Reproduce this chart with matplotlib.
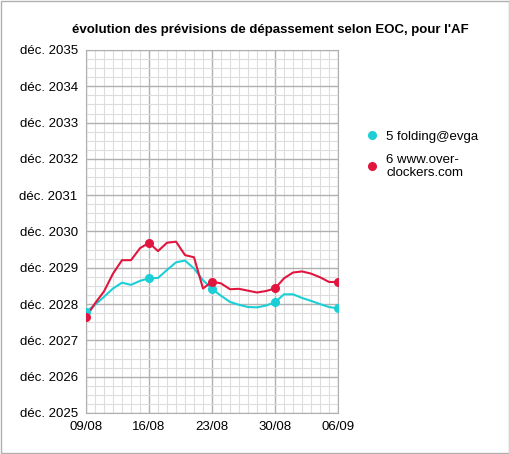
import matplotlib.pyplot as plt
from matplotlib.ticker import MultipleLocator

# days since 09/08
days = list(range(29))
cyan_vals = [2027.79, 2027.98, 2028.20, 2028.43, 2028.59, 2028.53, 2028.64, 2028.71, 2028.72,
             2028.94, 2029.15, 2029.20, 2028.98, 2028.66, 2028.42, 2028.23, 2028.06, 2027.98,
             2027.92, 2027.91, 2027.96, 2028.05, 2028.27, 2028.27, 2028.17, 2028.09, 2028.00,
             2027.92, 2027.88]
red_vals = [2027.64, 2028.02, 2028.35, 2028.84, 2029.21, 2029.21, 2029.54, 2029.69, 2029.46,
            2029.69, 2029.72, 2029.35, 2029.29, 2028.43, 2028.62, 2028.57, 2028.41, 2028.42,
            2028.37, 2028.32, 2028.36, 2028.43, 2028.71, 2028.87, 2028.90, 2028.84, 2028.74,
            2028.61, 2028.61]
marker_days = [0, 7, 14, 21, 28]
x_labels = ['09/08', '16/08', '23/08', '30/08', '06/09']
years = list(range(2025, 2036))
series = [('5 folding@evga', cyan_vals, '#1ccfd6'), ('6 www.over-\nclockers.com', red_vals, '#e0163f')]

plt.rcParams['font.family'] = ['Liberation Sans', 'DejaVu Sans']
fig = plt.figure(figsize=(5.10, 4.54), dpi=100)
ax = fig.add_axes([86 / 510, 1 - 413 / 454, 252 / 510, 363 / 454])

for name, vals, col in series:
    ax.plot(days, vals, color=col, lw=1.5, zorder=3)
    ax.plot(marker_days, [vals[d] for d in marker_days], 'o', color=col, ms=5.5, zorder=4, label=name)

ax.set_xlim(0, 28)
ax.set_ylim(2025, 2035)
ax.set_xticks(marker_days)
ax.set_xticklabels(x_labels)
ax.xaxis.set_minor_locator(MultipleLocator(1))
ax.set_yticks(years)
ax.set_yticklabels(['déc. %d' % y for y in years])
ax.yaxis.set_minor_locator(MultipleLocator(0.25))
ax.grid(which='major', color='#b0b0b0', lw=1)
ax.grid(which='minor', color='#dddddd', lw=0.8)
ax.set_axisbelow(True)
ax.tick_params(which='both', length=0, labelsize=9.5, pad=6)
for s in ax.spines.values():
    s.set_color('#b0b0b0')
fig.text(0.53, 1 - 30 / 454, "évolution des prévisions de dépassement selon EOC, pour l'AF",
         fontsize=9.5, fontweight='bold', ha='center', va='center')
ax.legend(loc='upper left', bbox_to_anchor=(1.06, 0.81), frameon=False, fontsize=9.5,
          handletextpad=0.6, labelspacing=0.8, handlelength=1)

fig.patches.append(plt.Rectangle((0.002, 0.002), 0.996, 0.996, transform=fig.transFigure,
                                 fill=False, edgecolor='#b0b0b0', lw=1))
fig.savefig('out.png', dpi=100)
